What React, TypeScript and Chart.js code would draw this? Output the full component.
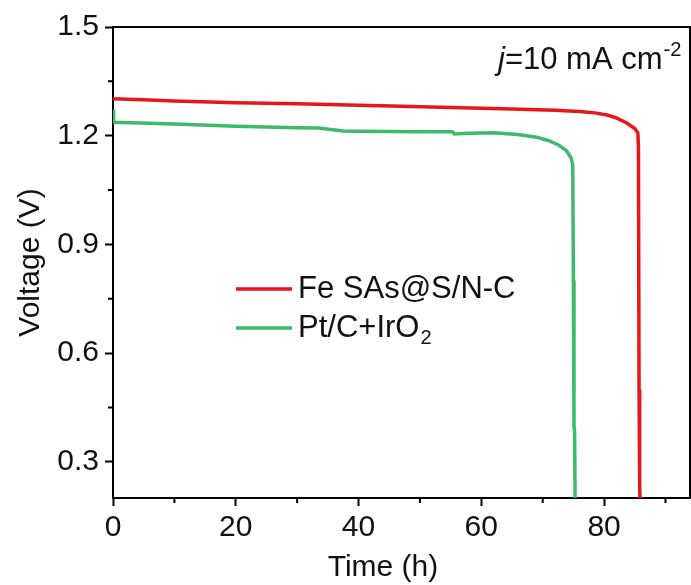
import React, { useEffect, useRef } from 'react';
import { Chart, registerables } from 'chart.js';

Chart.register(...registerables);

// ---- Data ----
const feTime = [0, 5, 10, 20, 30, 40, 47, 55, 65, 72, 76, 78.5, 80.5, 82, 83.7, 85, 85.5, 85.6, 85.7, 85.8, 85.9];
const feVoltage = [1.302, 1.299, 1.296, 1.291, 1.288, 1.284, 1.281, 1.278, 1.274, 1.27, 1.267, 1.263, 1.257, 1.249, 1.235, 1.22, 1.208, 1.17, 0.5, 0.238, 0.15];

const ptTime = [0, 0.1, 10, 20, 30, 33.5, 35.5, 37.5, 40, 50, 55.3, 55.6, 58, 62, 66, 69, 71, 72.5, 73.8, 74.6, 74.9, 75.0, 75.1, 75.2, 75.3];
const ptVoltage = [1.272, 1.237, 1.232, 1.226, 1.222, 1.221, 1.217, 1.213, 1.212, 1.211, 1.211, 1.205, 1.207, 1.208, 1.203, 1.196, 1.186, 1.175, 1.16, 1.14, 1.12, 0.8, 0.4, 0.38, 0.15];

const seriesNames = ['Fe SAs@S/N-C', 'Pt/C+IrO'];
const seriesSubscripts = ['', '2'];
const seriesColors = ['#e8151b', '#3dba6b'];

const xTicks = [0, 20, 40, 60, 80];
const xMinorTicks = [10, 30, 50, 70, 90];
const yTicks = [0.3, 0.6, 0.9, 1.2, 1.5];
const yMinorTicks = [0.45, 0.75, 1.05, 1.35];

const xTitle = 'Time (h)';
const yTitle = 'Voltage (V)';

const FONT = '"Liberation Sans", Arial, sans-serif';
const FS = 30;
const FS_LEG = 31;

const decorPlugin = {
  id: 'decor',
  afterDraw(chart: any) {
    const { ctx, chartArea, scales } = chart;
    const { left, right, top, bottom } = chartArea;
    const x = scales.x;
    const y = scales.y;
    ctx.save();
    ctx.strokeStyle = '#000';
    ctx.lineWidth = 2;
    ctx.beginPath();
    ctx.moveTo(left - 1, top);
    ctx.lineTo(right, top);
    ctx.lineTo(right, bottom + 1);
    ctx.stroke();
    ctx.beginPath();
    xMinorTicks.forEach((v) => {
      const px = x.getPixelForValue(v);
      if (px <= right - 1) {
        ctx.moveTo(px, bottom);
        ctx.lineTo(px, bottom + 5);
      }
    });
    yMinorTicks.forEach((v) => {
      const py = y.getPixelForValue(v);
      ctx.moveTo(left, py);
      ctx.lineTo(left - 5, py);
    });
    ctx.stroke();

    // legend
    const legX0 = 236;
    const legX1 = 292;
    const legY = [289, 328];
    ctx.textBaseline = 'middle';
    ctx.textAlign = 'left';
    seriesNames.forEach((name, i) => {
      ctx.strokeStyle = seriesColors[i];
      ctx.lineWidth = 3.5;
      ctx.beginPath();
      ctx.moveTo(legX0, legY[i]);
      ctx.lineTo(legX1, legY[i]);
      ctx.stroke();
      ctx.fillStyle = '#111';
      ctx.font = `${FS_LEG}px ${FONT}`;
      ctx.fillText(name, 298, legY[i]);
      if (seriesSubscripts[i]) {
        const w = ctx.measureText(name).width;
        ctx.font = `${FS_LEG * 0.65}px ${FONT}`;
        ctx.fillText(seriesSubscripts[i], 298 + w + 1, legY[i] + 10);
      }
    });

    // x title
    ctx.font = `${FS}px ${FONT}`;
    ctx.fillStyle = '#111';
    ctx.textAlign = 'center';
    ctx.textBaseline = 'alphabetic';
    ctx.fillText(xTitle, 383, 576);

    // annotation j=10 mA cm-2
    const baseY = 69;
    const italic = `italic ${FS_LEG}px ${FONT}`;
    const normal = `${FS_LEG}px ${FONT}`;
    const sup = `${FS_LEG * 0.65}px ${FONT}`;
    ctx.textAlign = 'left';
    let cx = 498;
    ctx.font = italic;
    ctx.fillText('j', cx, baseY);
    cx += ctx.measureText('j').width;
    ctx.font = normal;
    const mid = '=10 mA cm';
    ctx.fillText(mid, cx, baseY);
    cx += ctx.measureText(mid).width;
    ctx.font = sup;
    ctx.fillText('-2', cx + 1, baseY - 13);
    ctx.restore();
  },
};

export default function App() {
  const ref = useRef<HTMLCanvasElement | null>(null);
  useEffect(() => {
    document.body.style.margin = '0';
    const canvas = ref.current;
    if (!canvas) return;
    const chart = new Chart(canvas, {
      type: 'line',
      data: {
        datasets: [
          {
            label: seriesNames[0],
            data: feTime.map((t, i) => ({ x: t, y: feVoltage[i] })),
            borderColor: seriesColors[0],
            borderWidth: 3.5,
            pointRadius: 0,
            tension: 0,
          },
          {
            label: seriesNames[1] + seriesSubscripts[1],
            data: ptTime.map((t, i) => ({ x: t, y: ptVoltage[i] })),
            borderColor: seriesColors[1],
            borderWidth: 3.5,
            pointRadius: 0,
            tension: 0,
          },
        ],
      },
      options: {
        animation: false,
        responsive: false,
        devicePixelRatio: 1,
        layout: { padding: { top: 27, right: 1, left: 0, bottom: 0 } },
        plugins: { legend: { display: false }, tooltip: { enabled: false } },
        scales: {
          x: {
            type: 'linear',
            min: 0,
            max: 94,
            afterBuildTicks: (scale: any) => {
              scale.ticks = xTicks.map((v) => ({ value: v }));
            },
            afterFit: (scale: any) => {
              scale.height = 87;
            },
            grid: {
              drawOnChartArea: false,
              drawTicks: true,
              tickLength: 8,
              tickColor: '#000',
              tickWidth: 2,
            },
            border: { display: true, color: '#000', width: 2 },
            ticks: {
              color: '#111',
              font: { family: FONT, size: FS },
              padding: 4,
              maxRotation: 0,
              autoSkip: false,
            },
            title: { display: false },
          },
          y: {
            type: 'linear',
            min: 0.2,
            max: 1.5,
            afterBuildTicks: (scale: any) => {
              scale.ticks = yTicks.map((v) => ({ value: v }));
            },
            afterFit: (scale: any) => {
              scale.width = 113;
            },
            grid: {
              drawOnChartArea: false,
              drawTicks: true,
              tickLength: 8,
              tickColor: '#000',
              tickWidth: 2,
            },
            border: { display: true, color: '#000', width: 2 },
            ticks: {
              color: '#111',
              font: { family: FONT, size: FS },
              padding: 6,
              autoSkip: false,
              callback: (v: any) => Number(v).toFixed(1),
            },
            title: {
              display: true,
              text: yTitle,
              color: '#111',
              font: { family: FONT, size: FS },
              padding: { top: 13, bottom: 0 },
            },
          },
        },
      },
      plugins: [decorPlugin],
    } as any);
    return () => chart.destroy();
  }, []);
  return <canvas ref={ref} width={691} height={585} style={{ display: 'block' }} />;
}
